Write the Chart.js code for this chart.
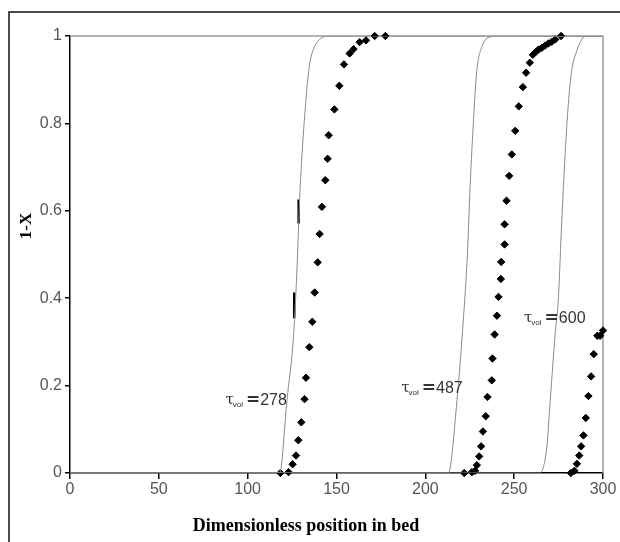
<!DOCTYPE html>
<html>
<head>
<meta charset="utf-8">
<script src="https://cdn.jsdelivr.net/npm/chart.js@4"></script>
<style>
  html, body { margin: 0; padding: 0; background: #fff; }
  #wrap { width: 620px; height: 542px; }
</style>
</head>
<body>
<div id="wrap"><canvas id="chart" width="620" height="542"></canvas></div>
<script>
// model curves (thin grey lines)
const curve278X = [0, 118, 122.1, 125.9, 127.8, 129.3, 130.6, 131.9, 133.4, 134.9, 137.1, 140, 144.6, 300];
const curve278Y = [0, 0, 0.166, 0.319, 0.471, 0.632, 0.731, 0.807, 0.883, 0.936, 0.971, 0.99, 1, 1];
const curve487X = [0, 213, 217.8, 221.5, 223.7, 225.2, 227.1, 229, 231.8, 236.5, 241.2, 300];
const curve487Y = [0, 0, 0.166, 0.357, 0.502, 0.655, 0.807, 0.921, 0.975, 0.998, 1, 1];
const curve600X = [0, 264.2, 268.4, 270.3, 273.1, 274.9, 276.8, 278.7, 280.5, 282.4, 285.3, 289, 290.1, 300];
const curve600Y = [0, 0, 0.06, 0.166, 0.319, 0.4, 0.578, 0.731, 0.845, 0.921, 0.967, 0.998, 1, 1];

// experimental points (black diamonds)
const pts278X = [118.4, 123, 125.3, 127.2, 128.5, 130.2, 132, 132.8, 134.7, 136.4, 137.7, 139.4, 140.5, 141.8, 143.7, 145, 145.6, 148.8, 151.6, 154.2, 157.4, 159.6, 163, 166.6, 171.5, 177.5];
const pts278Y = [0, 0.002, 0.02, 0.04, 0.075, 0.116, 0.169, 0.218, 0.288, 0.346, 0.413, 0.482, 0.547, 0.609, 0.67, 0.719, 0.773, 0.832, 0.886, 0.935, 0.96, 0.97, 0.986, 0.99, 1, 1];
const pts487X = [221.9, 226.2, 228, 229, 230.3, 231.4, 232.4, 234, 235, 237.4, 237.8, 239, 240.3, 241.2, 242.5, 242.7, 244.6, 244.6, 245.7, 247.2, 248.7, 250.6, 252.6, 254.9, 256.7, 258.8, 260.5, 262, 263.7, 265.6, 267.4, 269.3, 271.2, 273.1, 276.4];
const pts487Y = [0, 0.002, 0.005, 0.018, 0.038, 0.061, 0.095, 0.13, 0.174, 0.212, 0.262, 0.317, 0.36, 0.403, 0.444, 0.483, 0.523, 0.569, 0.623, 0.68, 0.729, 0.783, 0.839, 0.883, 0.916, 0.939, 0.957, 0.963, 0.969, 0.973, 0.978, 0.983, 0.987, 0.992, 1];
const pts600X = [281.9, 283.9, 285.3, 286.6, 287.7, 289, 290.3, 291.8, 293.3, 294.8, 296.8, 298.4, 300];
const pts600Y = [0, 0.005, 0.021, 0.04, 0.061, 0.086, 0.126, 0.176, 0.221, 0.272, 0.314, 0.314, 0.326];

// short black marks on the first curve
const markAX = [128.7, 128.7];
const markAY = [0.626, 0.571];
const markBX = [126.2, 126.2];
const markBY = [0.413, 0.354];

// curve labels
const labelNums = ['278', '487', '600'];
const labelX = [88.6, 187.6, 256.7];
const labelY = [0.17, 0.197, 0.356];

const xTicks = [0, 50, 100, 150, 200, 250, 300];

function pairs(xs, ys) {
    return xs.map((x, i) => ({ x: x, y: ys[i] }));
}

function curveSet(xs, ys) {
    return {
        data: pairs(xs, ys),
        showLine: true,
        borderColor: '#8a8a8a',
        borderWidth: 1,
        pointRadius: 0,
        cubicInterpolationMode: 'monotone'
    };
}

function dotSet(xs, ys) {
    return {
        data: pairs(xs, ys),
        showLine: false,
        pointStyle: 'rectRot',
        pointRadius: 3.7,
        backgroundColor: '#000',
        borderColor: '#000',
        borderWidth: 1,
        clip: false
    };
}

function markSet(xs, ys) {
    return {
        data: pairs(xs, ys),
        showLine: true,
        borderColor: '#000',
        borderWidth: 2.5,
        pointRadius: 0
    };
}

const decor = {
    id: 'decor',
    beforeDatasetsDraw(chart) {
        const ctx = chart.ctx;
        const a = chart.chartArea;
        ctx.save();
        // grey top and right plot border
        ctx.strokeStyle = '#999';
        ctx.lineWidth = 1.5;
        ctx.beginPath();
        ctx.moveTo(a.left, a.top);
        ctx.lineTo(a.right, a.top);
        ctx.lineTo(a.right, a.bottom);
        ctx.stroke();
        ctx.restore();
    },
    afterDraw(chart) {
        const ctx = chart.ctx;
        const xs = chart.scales.x, ys = chart.scales.y;
        ctx.save();
        // outer frame
        ctx.strokeStyle = '#111';
        ctx.lineWidth = 1.5;
        ctx.beginPath();
        ctx.moveTo(9, 545);
        ctx.lineTo(9, 12);
        ctx.lineTo(625, 12);
        ctx.stroke();

        // axis titles
        ctx.fillStyle = '#000';
        ctx.font = 'bold 18px "Liberation Serif", "Times New Roman", serif';
        ctx.textAlign = 'center';
        ctx.textBaseline = 'middle';
        ctx.fillText('Dimensionless position in bed', 306, 526);
        ctx.save();
        ctx.translate(27, 226);
        ctx.rotate(-Math.PI / 2);
        ctx.font = 'bold 17px "Liberation Serif", "Times New Roman", serif';
        ctx.fillText('1-X', 0, 0);
        ctx.restore();

        // curve labels
        ctx.fillStyle = '#333';
        ctx.textAlign = 'left';
        ctx.textBaseline = 'alphabetic';
        labelNums.forEach((n, i) => {
            let px = xs.getPixelForValue(labelX[i]) - 2;
            const py = ys.getPixelForValue(labelY[i]) + 6;
            ctx.font = '15px "DejaVu Serif", serif';
            ctx.fillText('τ', px, py - 1);
            px += ctx.measureText('τ').width - 1;
            ctx.font = '8px "Liberation Sans", Arial, sans-serif';
            ctx.fillText('vol', px, py + 2);
            px += ctx.measureText('vol').width + 3;
            ctx.font = 'bold 17px "DejaVu Sans", sans-serif';
            ctx.fillText('=', px, py);
            px += ctx.measureText('=').width;
            ctx.font = '16px "Liberation Sans Narrow", "Arial Narrow", sans-serif';
            ctx.fillText(n, px, py);
        });
        ctx.restore();
    }
};

const tickFont = { family: '"Liberation Sans Narrow", "Arial Narrow", sans-serif', size: 16 };

new Chart(document.getElementById('chart'), {
    type: 'scatter',
    data: {
        datasets: [
            curveSet(curve278X, curve278Y),
            curveSet(curve487X, curve487Y),
            curveSet(curve600X, curve600Y),
            markSet(markAX, markAY),
            markSet(markBX, markBY),
            dotSet(pts278X, pts278Y),
            dotSet(pts487X, pts487Y),
            dotSet(pts600X, pts600Y)
        ]
    },
    options: {
        responsive: false,
        animation: false,
        layout: { padding: { left: 0, top: 36, right: 17, bottom: 39 } },
        plugins: {
            legend: { display: false },
            tooltip: { enabled: false }
        },
        scales: {
            x: {
                type: 'linear',
                min: 0,
                max: 300,
                afterBuildTicks: axis => { axis.ticks = xTicks.map(v => ({ value: v })); },
                afterFit: axis => { axis.height = 30; },
                border: { color: '#000', width: 1.5 },
                grid: { drawOnChartArea: false, drawTicks: true, tickLength: 6, color: '#000', lineWidth: 1.5 },
                ticks: { color: '#555', font: tickFont, padding: 1, maxRotation: 0 }
            },
            y: {
                type: 'linear',
                min: 0,
                max: 1,
                ticks: {
                    stepSize: 0.2,
                    color: '#555',
                    font: tickFont,
                    padding: 3,
                    callback: v => (v === 0 || v === 1) ? String(v) : v.toFixed(1)
                },
                afterFit: axis => { axis.width = 70; },
                border: { color: '#000', width: 1.5 },
                grid: { drawOnChartArea: false, drawTicks: true, tickLength: 5, color: '#000', lineWidth: 1.5 }
            }
        }
    },
    plugins: [decor]
});
</script>
</body>
</html>
